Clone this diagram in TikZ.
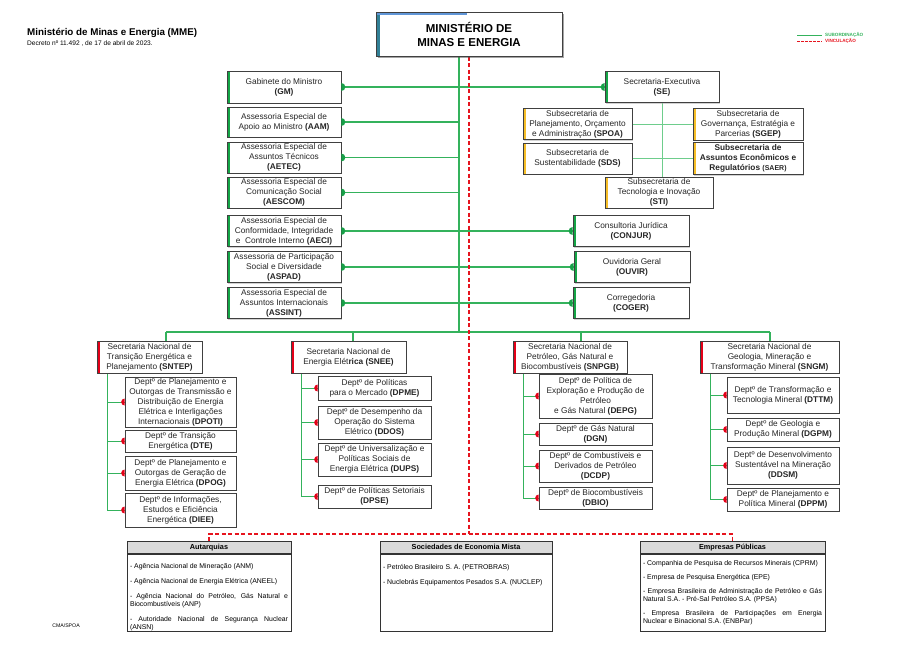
\documentclass[tikz,border=0pt]{standalone}
\usepackage{fontspec}
\setmainfont{Liberation Sans}
\usetikzlibrary{positioning,shadows,backgrounds}
\definecolor{subgreen}{RGB}{52,178,92}
\definecolor{dotgreen}{RGB}{24,160,72}
\definecolor{bargreen}{RGB}{20,165,70}
\definecolor{lightline}{RGB}{110,205,140}
\definecolor{vinred}{RGB}{230,20,30}
\definecolor{barred}{RGB}{228,0,24}
\definecolor{bargold}{RGB}{246,190,40}
\definecolor{mmeblue}{RGB}{96,150,215}
\definecolor{mmeteal}{RGB}{50,128,150}
\definecolor{hdrgray}{RGB}{218,218,218}

\begin{document}
\begin{tikzpicture}[x=1pt,y=-1pt,
    unit/.style={draw=black!75,line width=0.7pt,fill=white,align=center,inner xsep=2pt,inner ysep=1pt,
      font=\fontsize{8.3}{10}\selectfont,text=black!85,
      drop shadow={shadow xshift=1.2pt,shadow yshift=-1.2pt,fill=black!35}},
    sidebar/.style={path picture={\fill[#1] (path picture bounding box.north west) rectangle ([xshift=3pt]path picture bounding box.south west);}},
    hdr/.style={draw=black!80,line width=0.6pt,fill=hdrgray,inner sep=0pt,minimum height=12,
      font=\fontsize{7.3}{8}\selectfont\bfseries,drop shadow={shadow xshift=1.2pt,shadow yshift=-1.2pt,fill=black!35}},
    body/.style={draw=black!80,line width=0.6pt,fill=white,inner xsep=3pt,inner ysep=0pt,
      font=\fontsize{6.9}{8}\selectfont,drop shadow={shadow xshift=1.2pt,shadow yshift=-1.2pt,fill=black!35}},
    sub/.style={subgreen,line width=1.1pt},
    subthin/.style={lightline,line width=0.9pt},
    branch/.style={subgreen,line width=0.9pt},
    vin/.style={vinred,line width=1.1pt,dash pattern=on 4pt off 2.5pt}]
  \useasboundingbox (0,0) rectangle (917,648);

  \node[anchor=west,inner sep=0pt,font=\fontsize{9.8}{11}\selectfont\bfseries] (ttl) at (27,33) {Ministério de Minas e Energia (MME)};
  \node[below=3pt of ttl.south west,anchor=north west,inner sep=0pt,font=\fontsize{6.6}{7}\selectfont] (dec) {Decreto nº 11.492 , de 17 de abril de 2023.};

  \node[unit,line width=1pt,minimum width=186,minimum height=44,font=\fontsize{11.5}{14}\selectfont\bfseries,text=black,
    drop shadow={shadow xshift=1.6pt,shadow yshift=-1.6pt,fill=black!70},
    path picture={\fill[mmeteal] (path picture bounding box.north west) rectangle ([xshift=4pt]path picture bounding box.south west);
      \fill[mmeblue] (path picture bounding box.north west) rectangle ([xshift=91pt,yshift=-3pt]path picture bounding box.north west);}]
    (mme) at (469,34) {MINISTÉRIO DE\\MINAS E ENERGIA};

  \node[unit,sidebar=bargreen,minimum width=114,minimum height=32] (gm) at (284,87) {Gabinete do Ministro\\\textbf{(GM)}};
  \node[unit,sidebar=bargreen,minimum width=114,minimum height=30] (aam) at (284,122) {Assessoria Especial de\\Apoio ao Ministro \textbf{(AAM)}};
  \node[unit,sidebar=bargreen,minimum width=114,minimum height=31] (aetec) at (284,157.5) {Assessoria Especial de\\Assuntos Técnicos\\\textbf{(AETEC)}};
  \node[unit,sidebar=bargreen,minimum width=114,minimum height=31] (aescom) at (284,192.5) {Assessoria Especial de\\Comunicação Social\\\textbf{(AESCOM)}};
  \node[unit,sidebar=bargreen,minimum width=114,minimum height=31] (aeci) at (284,231) {Assessoria Especial de\\Conformidade, Integridade\\e~ Controle Interno \textbf{(AECI)}};
  \node[unit,sidebar=bargreen,minimum width=114,minimum height=31] (aspad) at (284,267) {Assessoria de Participação\\Social e Diversidade\\\textbf{(ASPAD)}};
  \node[unit,sidebar=bargreen,minimum width=114,minimum height=31] (assint) at (284,303) {Assessoria Especial de\\Assuntos Internacionais\\\textbf{(ASSINT)}};

  \node[unit,sidebar=bargreen,minimum width=114,minimum height=31] (se) at (662,87) {Secretaria-Executiva\\\textbf{(SE)}};
  \node[unit,sidebar=bargreen,minimum width=116,minimum height=31] (conjur) at (631,231) {Consultoria Jurídica\\\textbf{(CONJUR)}};
  \node[unit,sidebar=bargreen,minimum width=116,minimum height=31] (ouvir) at (632,267) {Ouvidoria Geral\\\textbf{(OUVIR)}};
  \node[unit,sidebar=bargreen,minimum width=116,minimum height=31] (coger) at (631,303) {Corregedoria\\\textbf{(COGER)}};

  \node[unit,sidebar=bargold,minimum width=109,minimum height=31] (spoa) at (577.5,124) {Subsecretaria de\\Planejamento, Orçamento\\e Administração \textbf{(SPOA)}};
  \node[unit,sidebar=bargold,minimum width=110,minimum height=32] (sgep) at (748,124) {Subsecretaria de\\Governança, Estratégia e\\Parcerias \textbf{(SGEP)}};
  \node[unit,sidebar=bargold,minimum width=109,minimum height=31] (sds) at (577.5,158.5) {Subsecretaria de\\Sustentabilidade \textbf{(SDS)}};
  \node[unit,sidebar=bargold,minimum width=110,minimum height=32,font=\fontsize{8.3}{10}\selectfont\bfseries] (saer) at (748,158.5) {Subsecretaria de\\Assuntos Econômicos e\\Regulatórios {\fontsize{7}{10}\selectfont(SAER)}};
  \node[unit,sidebar=bargold,minimum width=108,minimum height=31] (sti) at (659,192.5) {Subsecretaria de\\Tecnologia e Inovação\\\textbf{(STI)}};

  \node[unit,sidebar=barred,minimum width=105,minimum height=32] (sntep) at (149.5,357) {Secretaria Nacional de\\Transição Energética e\\Planejamento \textbf{(SNTEP)}};
  \node[unit,sidebar=barred,minimum width=115,minimum height=32] (snee) at (348.5,357) {Secretaria Nacional de\\Energia Elét\textbf{rica (SNEE)}};
  \node[unit,sidebar=barred,minimum width=114,minimum height=32] (snpgb) at (570,357) {Secretaria Nacional de\\Petróleo, Gás Natural e\\Biocombustíveis \textbf{(SNPGB)}};
  \node[unit,sidebar=barred,minimum width=139,minimum height=32] (sngm) at (769.5,357) {Secretaria Nacional de\\Geologia, Mineração e\\Transformação Mineral \textbf{(SNGM)}};

  \node[unit,minimum width=111,minimum height=50] (dpoti) at (180.5,402) {Deptº de Planejamento e\\Outorgas de Transmissão e\\Distribuição de Energia\\Elétrica e Interligações\\Internacionais \textbf{(DPOTI)}};
  \node[unit,minimum width=111,minimum height=22] (dte) at (180.5,441) {Deptº de Transição\\Energética \textbf{(DTE)}};
  \node[unit,minimum width=111,minimum height=34] (dpog) at (180.5,473) {Deptº de Planejamento e\\Outorgas de Geração de\\Energia Elétrica \textbf{(DPOG)}};
  \node[unit,minimum width=111,minimum height=34] (diee) at (180.5,510) {Deptº de Informações,\\Estudos e Eficiência\\Energética \textbf{(DIEE)}};

  \node[unit,minimum width=113,minimum height=24] (dpme) at (374.5,388) {Deptº de Políticas\\para o Mercado \textbf{(DPME)}};
  \node[unit,minimum width=113,minimum height=33] (ddos) at (374.5,422.5) {Deptº de Desempenho da\\Operação do Sistema\\Elétrico \textbf{(DDOS)}};
  \node[unit,minimum width=113,minimum height=33] (dups) at (374.5,459.5) {Deptº de Universalização e\\Políticas Sociais de\\Energia Elétrica \textbf{(DUPS)}};
  \node[unit,minimum width=113,minimum height=23] (dpse) at (374.5,496.5) {Deptº de Políticas Setoriais\\\textbf{(DPSE)}};

  \node[unit,minimum width=113,minimum height=44] (depg) at (595.5,396) {Deptº de Política de\\Exploração e Produção de\\Petróleo\\e Gás Natural \textbf{(DEPG)}};
  \node[unit,minimum width=113,minimum height=22] (dgn) at (595.5,434) {Deptº de Gás Natural\\\textbf{(DGN)}};
  \node[unit,minimum width=113,minimum height=32] (dcdp) at (595.5,466) {Deptº de Combustíveis e\\Derivados de Petróleo\\\textbf{(DCDP)}};
  \node[unit,minimum width=113,minimum height=22] (dbio) at (595.5,498) {Deptº de Biocombustíveis\\\textbf{(DBIO)}};

  \node[unit,minimum width=112,minimum height=36] (dttm) at (783,395) {Deptº de Transformação e\\Tecnologia Mineral \textbf{(DTTM)}};
  \node[unit,minimum width=112,minimum height=23] (dgpm) at (783,429.5) {Deptº de Geologia e\\Produção Mineral \textbf{(DGPM)}};
  \node[unit,minimum width=112,minimum height=37] (ddsm) at (783,465.5) {Deptº de Desenvolvimento\\Sustentável na Mineração\\\textbf{(DDSM)}};
  \node[unit,minimum width=112,minimum height=23] (dppm) at (783,499.5) {Deptº de Planejamento e\\Política Mineral \textbf{(DPPM)}};

  \node[hdr,minimum width=164,anchor=north] (autah) at (209,541) {Autarquias};
  \node[body,below=0pt of autah] (auta) {\parbox[c][77pt][t]{158pt}{\setlength{\parskip}{7pt}\vspace*{2.5pt}%
    - Agência Nacional de Mineração (ANM)\par
    - Agência Nacional de Energia Elétrica (ANEEL)\par
    - Agência Nacional do Petróleo, Gás Natural e\linebreak Biocombustíveis (ANP)\par
    - Autoridade Nacional de Segurança Nuclear\linebreak (ANSN)}};

  \node[hdr,minimum width=172,anchor=north] (socih) at (466,541) {Sociedades de Economia Mista};
  \node[body,below=0pt of socih] (soci) {\parbox[c][77pt][t]{166pt}{\setlength{\parskip}{7pt}\vspace*{4pt}%
    - Petróleo Brasileiro S. A. (PETROBRAS)\par
    - Nuclebrás Equipamentos Pesados S.A. (NUCLEP)}};

  \node[hdr,minimum width=185,anchor=north] (empah) at (732.5,541) {Empresas Públicas};
  \node[body,below=0pt of empah] (empa) {\parbox[c][77pt][t]{179pt}{\setlength{\parskip}{6pt}\vspace*{1pt}%
    - Companhia de Pesquisa de Recursos Minerais (CPRM)\par
    - Empresa de Pesquisa Energética (EPE)\par
    - Empresa Brasileira de Administração de Petróleo e Gás\linebreak Natural S.A. - Pré-Sal Petróleo S.A. (PPSA)\par
    - Empresa Brasileira de Participações em Energia\linebreak Nuclear e Binacional S.A. (ENBPar)}};

  \node[inner sep=0pt,font=\fontsize{5.2}{6}\selectfont] (cma) at (66,626) {CMA/SPOA};

  \coordinate (legs) at (797,35);
  \coordinate (lege) at (822,35);
  \coordinate (legvs) at (797,41);
  \coordinate (legve) at (822,41);
  \draw[subgreen,line width=0.8pt] (legs) -- (lege);
  \draw[vinred,line width=0.8pt,dash pattern=on 2.5pt off 1.5pt] (legvs) -- (legve);
  \node[right=3pt of lege,inner sep=0pt,font=\fontsize{4.6}{5}\selectfont\bfseries,text=subgreen] (legsub) {SUBORDINAÇÃO};
  \node[right=3pt of legve,inner sep=0pt,font=\fontsize{4.6}{5}\selectfont\bfseries,text=vinred] (legvin) {VINCULAÇÃO};

  \begin{scope}[on background layer]
    \coordinate (mtop) at ([xshift=-10pt]mme.south);
    \coordinate (bus) at (459,332);
    \coordinate (busa) at (166,332);
    \coordinate (busb) at (353,332);
    \coordinate (busc) at (581,332);
    \coordinate (busd) at (770,332);
    \coordinate (vbot) at (469,534);
    \draw[sub] (mtop) -- (bus);
    \draw[sub] (busa) -- (busd);
    \draw[sub] (busa) -- (busa |- sntep.north);
    \draw[sub] (busb) -- (busb |- snee.north);
    \draw[sub] (busc) -- (busc |- snpgb.north);
    \draw[sub] (busd) -- (busd |- sngm.north);
    \draw[sub] (gm.east) -- (se.west);
    \foreach \n in {aam,aetec,aescom}
      \draw[sub] (\n.east) -- (\n.east -| mtop);
    \foreach \a/\b in {aeci/conjur,aspad/ouvir,assint/coger}
      \draw[sub] (\a.east) -- (\b.west);
    \draw[subthin] (se.south) -- (se.south |- sti.north);
    \draw[subthin] (spoa.east) -- (sgep.west);
    \draw[subthin] (sds.east) -- (saer.west);
    \foreach \d in {dpoti,dte,dpog,diee}
      \draw[branch] ([xshift=10.5pt]sntep.south west) |- (\d.west);
    \foreach \d in {dpme,ddos,dups,dpse}
      \draw[branch] ([xshift=10.5pt]snee.south west) |- (\d.west);
    \foreach \d in {depg,dgn,dcdp,dbio}
      \draw[branch] ([xshift=10.5pt]snpgb.south west) |- (\d.west);
    \foreach \d in {dttm,dgpm,ddsm,dppm}
      \draw[branch] ([xshift=10.5pt]sngm.south west) |- (\d.west);
    \draw[vin] (mme.south) -- (vbot);
    \draw[vin] (autah.north) |- (vbot) -| (empah.north);
  \end{scope}

  \foreach \n in {gm,aam,aetec,aescom,aeci,aspad,assint}{
    \begin{scope}
      \clip (\n.north east) rectangle ([xshift=5pt]\n.south east);
      \fill[dotgreen] (\n.east) circle[radius=4];
    \end{scope}}
  \foreach \n in {se,conjur,ouvir,coger}{
    \begin{scope}
      \clip ([xshift=-5pt]\n.north west) rectangle (\n.south west);
      \fill[dotgreen] (\n.west) circle[radius=4];
    \end{scope}}
  \foreach \n in {dpoti,dte,dpog,diee,dpme,ddos,dups,dpse,depg,dgn,dcdp,dbio,dttm,dgpm,ddsm,dppm}{
    \begin{scope}
      \clip ([xshift=-5pt]\n.north west) rectangle (\n.south west);
      \fill[barred] (\n.west) circle[radius=3.5];
    \end{scope}}
\end{tikzpicture}
\end{document}
